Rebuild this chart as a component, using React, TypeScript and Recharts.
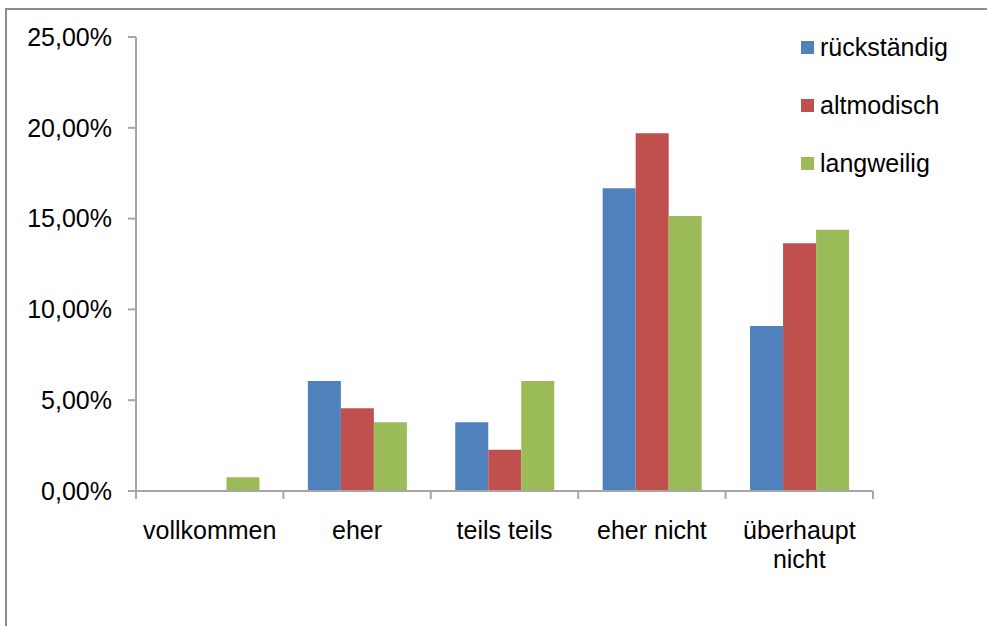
import React from 'react';
import { BarChart, Bar, XAxis, YAxis, Legend } from 'recharts';

const categories = ['vollkommen', 'eher', 'teils teils', 'eher nicht', 'überhaupt nicht'];
const rueckstaendig = [0, 6.06, 3.79, 16.67, 9.09];
const altmodisch = [0, 4.55, 2.27, 19.7, 13.64];
const langweilig = [0.76, 3.79, 6.06, 15.15, 14.39];
const yTicks = [0, 5, 10, 15, 20, 25];

const seriesList = [
  { key: 'rueckstaendig', name: 'rückständig', color: '#4F81BD' },
  { key: 'altmodisch', name: 'altmodisch', color: '#C0504D' },
  { key: 'langweilig', name: 'langweilig', color: '#9BBB59' },
];

const data = categories.map((cat, i) => ({
  cat,
  rueckstaendig: rueckstaendig[i],
  altmodisch: altmodisch[i],
  langweilig: langweilig[i],
}));

const W = 987;
const H = 626;
const MARGIN = { top: 37, right: 114, bottom: 0, left: 0 };
const Y_AXIS_W = 136;
const X_AXIS_H = 135;
const PLOT_W = W - MARGIN.left - MARGIN.right - Y_AXIS_W;
const STEP = PLOT_W / categories.length;
const AXIS_COLOR = '#A6A6A6';
const FONT = '"Liberation Sans", Arial, sans-serif';
const FONT_SIZE = 25;

const fmtPct = (v: number) => v.toFixed(2).replace('.', ',') + '%';

// category tick: boundary tick marks plus wrapped label
function CategoryTick(props: any) {
  const { x, y, payload, index } = props;
  const label: string = payload.value;
  const lines = label.length > 12 ? label.split(' ') : [label];
  const left = x - STEP / 2;
  return (
    <g>
      <line x1={left} x2={left} y1={y} y2={y + 8} stroke={AXIS_COLOR} strokeWidth={2} />
      {index === categories.length - 1 && (
        <line x1={x + STEP / 2} x2={x + STEP / 2} y1={y} y2={y + 8} stroke={AXIS_COLOR} strokeWidth={2} />
      )}
      <text x={x} y={y + 48} textAnchor="middle" fontSize={FONT_SIZE} fill="#000" fontFamily={FONT}>
        {lines.map((l, i) => (
          <tspan key={i} x={x} dy={i === 0 ? 0 : 29}>
            {l}
          </tspan>
        ))}
      </text>
    </g>
  );
}

function LegendList() {
  return (
    <div style={{ fontFamily: FONT, fontSize: FONT_SIZE, color: '#000' }}>
      {seriesList.map((s) => (
        <div key={s.key} style={{ display: 'flex', alignItems: 'center', height: 58 }}>
          <span style={{ width: 13, height: 13, background: s.color, marginRight: 6, display: 'inline-block' }} />
          <span>{s.name}</span>
        </div>
      ))}
    </div>
  );
}

export default function App() {
  return (
    <div style={{ position: 'absolute', left: 0, top: 0, width: W, height: H, background: '#fff', overflow: 'hidden' }}>
      <div
        style={{
          position: 'absolute',
          left: 5,
          top: 8,
          width: W + 20,
          height: H + 20,
          border: '2px solid #8C8C8C',
          boxSizing: 'border-box',
        }}
      />
      <BarChart
        width={W}
        height={H}
        data={data}
        margin={MARGIN}
        barCategoryGap="16.6%"
        barGap={0}
        style={{ position: 'absolute', left: 0, top: 0 }}
      >
        <XAxis
          dataKey="cat"
          height={X_AXIS_H}
          axisLine={{ stroke: AXIS_COLOR, strokeWidth: 2 }}
          tickLine={false}
          tickSize={0}
          tickMargin={0}
          interval={0}
          tick={<CategoryTick />}
        />
        <YAxis
          width={Y_AXIS_W}
          domain={[0, 25]}
          ticks={yTicks}
          interval={0}
          tickFormatter={fmtPct}
          axisLine={{ stroke: AXIS_COLOR, strokeWidth: 2 }}
          tickLine={{ stroke: AXIS_COLOR, strokeWidth: 2 }}
          tickSize={8}
          tickMargin={16}
          tick={{ fill: '#000', fontSize: FONT_SIZE, fontFamily: FONT }}
        />
        <Legend
          layout="horizontal"
          verticalAlign="middle"
          align="center"
          width={190}
          wrapperStyle={{ left: 801, top: 18 }}
          content={<LegendList />}
        />
        {seriesList.map((s) => (
          <Bar key={s.key} dataKey={s.key} name={s.name} fill={s.color} isAnimationActive={false} />
        ))}
      </BarChart>
    </div>
  );
}
